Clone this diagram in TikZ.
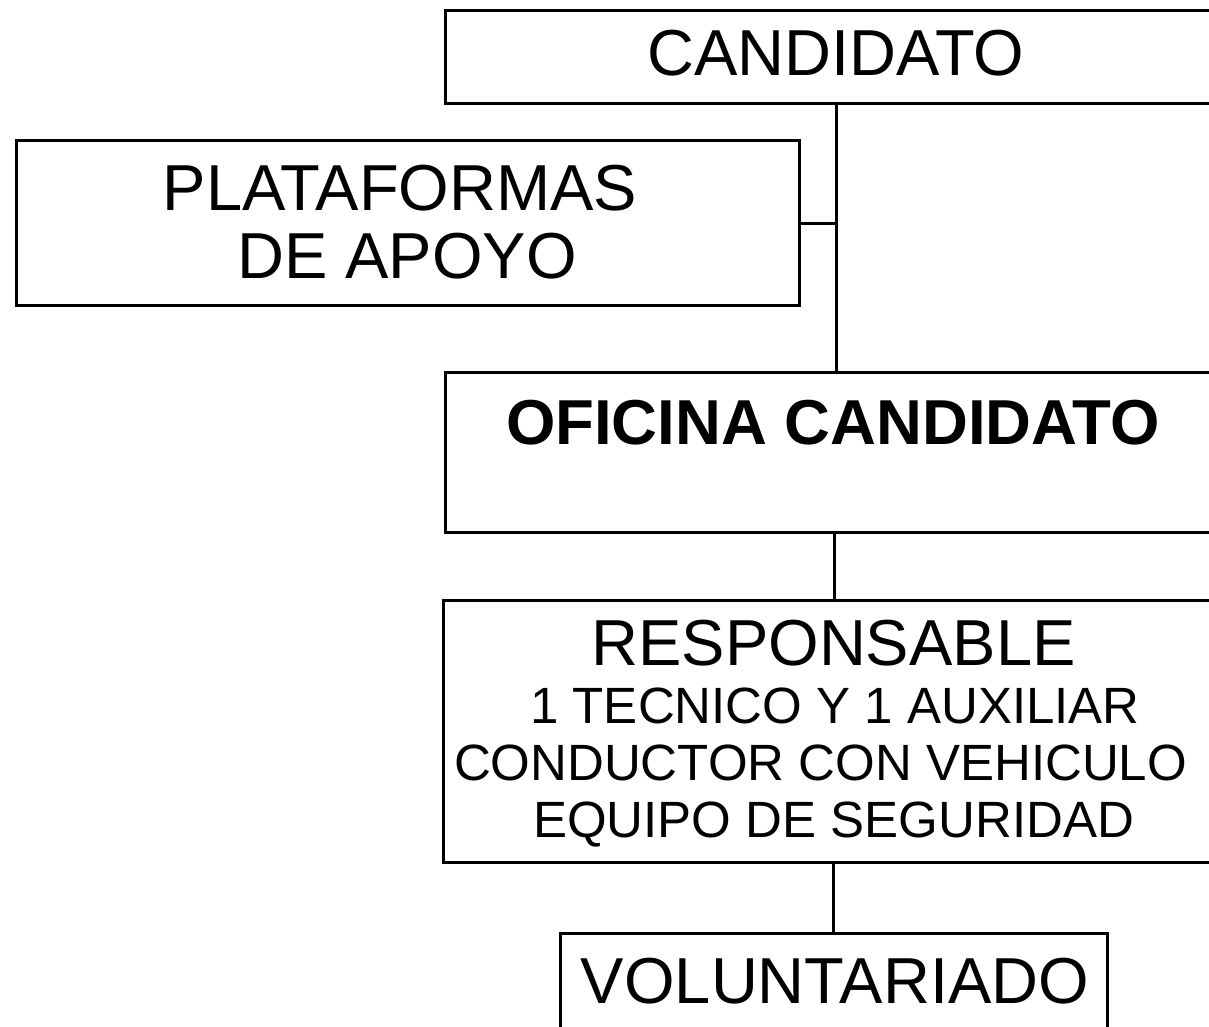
\documentclass[tikz,border=0pt]{standalone}
\usepackage{fontspec}
\setmainfont{Liberation Sans}
\begin{document}
\begin{tikzpicture}[x=1pt,y=-1pt,
  box/.style={draw=black,line width=3pt,inner sep=0pt,rectangle},
  conn/.style={draw=black,line width=3pt},
  big/.style={anchor=base,inner sep=0pt,font=\fontsize{65}{70}\selectfont},
  small/.style={anchor=base,inner sep=0pt,font=\fontsize{51}{56}\selectfont},
  bigbold/.style={anchor=base,inner sep=0pt,font=\fontsize{63.5}{68}\selectfont\bfseries}]
\clip (0,0) rectangle (1209,1027);
\useasboundingbox (0,0) rectangle (1209,1027);
% boxes
\node[box,minimum width=782pt,minimum height=93pt] (cand) at (836,57.5) {};
\node[box,minimum width=783pt,minimum height=164pt] (plat) at (407.5,223) {};
\node[box,minimum width=782pt,minimum height=160pt] (ofi) at (836,452) {};
\node[box,minimum width=782pt,minimum height=262pt] (resp) at (834,731) {};
\node[box,minimum width=547pt,minimum height=157pt] (vol) at (833.5,1011.5) {};
% texts
\node[big] (tcand) at (836,76) {CANDIDATO};
\node[big] (tplat1) at (400,211) {PLATAFORMAS};
\node[big] (tplat2) at (407,278) {DE APOYO};
\node[bigbold] (tofi) at (833,444) {OFICINA CANDIDATO};
\node[big] (tresp) at (833.5,665) {RESPONSABLE};
\node[small] (tr2) at (835,723) {1 TECNICO Y 1 AUXILIAR};
\node[small] (tr3) at (820.5,780) {CONDUCTOR CON VEHICULO};
\node[small] (tr4) at (833.5,837) {EQUIPO DE SEGURIDAD};
\node[big] (tvol) at (835,1003) {VOLUNTARIADO};
% connectors
\draw[conn] (cand.south) -- (ofi.north);
\draw[conn] (plat.east) -- (plat.east -| cand.south);
\draw[conn] (ofi.south -| resp.north) -- (resp.north);
\draw[conn] (resp.south -| vol.north) -- (vol.north);
\end{tikzpicture}
\end{document}
